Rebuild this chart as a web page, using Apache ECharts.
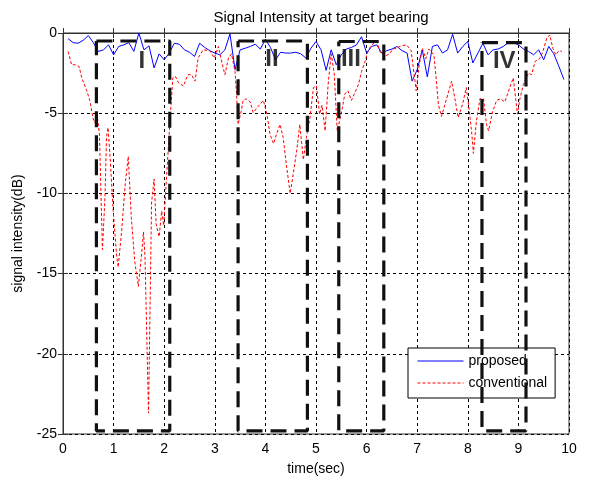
<!DOCTYPE html>
<html>
<head>
<meta charset="utf-8">
<script src="https://cdn.jsdelivr.net/npm/echarts@6/dist/echarts.min.js"></script>
<style>
  html, body { margin: 0; padding: 0; background: #fff; }
  #chart { width: 592px; height: 481px; }
</style>
</head>
<body>
<div id="chart"></div>
<script>
// Sample times (s) and intensity (dB) for the proposed method
const timeProposed = [0.1,0.2,0.3,0.4,0.5,0.6,0.7,0.8,0.9,1.0,1.1,1.2,1.3,1.4,1.5,1.6,1.7,1.8,1.9,2.0,
  2.1,2.2,2.3,2.4,2.5,2.6,2.7,2.8,2.9,3.0,3.1,3.2,3.3,3.4,3.5,3.6,3.7,3.8,3.9,4.0,
  4.1,4.2,4.3,4.4,4.5,4.6,4.7,4.8,4.9,5.0,5.1,5.2,5.3,5.4,5.5,5.6,5.7,5.8,5.9,6.0,
  6.1,6.2,6.3,6.4,6.5,6.6,6.7,6.8,6.9,7.0,7.1,7.2,7.3,7.4,7.5,7.6,7.7,7.8,7.9,8.0,
  8.1,8.2,8.3,8.4,8.5,8.6,8.7,8.8,8.9,9.0,9.1,9.2,9.3,9.4,9.5,9.6,9.7,9.8,9.9];
const proposed = [-0.35,-0.6,-0.64,-0.45,-0.16,-0.6,-1.15,-1.05,-0.74,-1.36,-0.84,-0.74,-0.6,-1.15,0,-1.05,-0.8,-2.18,-1.3,-1.67,
  -1.25,-0.64,-0.7,-1.05,-1.2,-1.46,-0.64,-0.9,-1.1,-1.25,-1.36,-1.05,-0.06,-2.28,-1.05,-0.95,-0.84,-0.7,-1.0,-0.39,
  -0.9,-1.67,-1.2,-1.25,-1.25,-1.2,-1.3,-1.56,-0.95,-0.53,-1.05,-2.33,-1.05,-1.98,-1.36,-1.0,-0.9,-0.74,-0.23,-1.25,
  -0.84,-0.74,-1.25,-1.1,-1.0,-0.84,-1.1,-1.25,-3.0,-2.28,-1.05,-2.74,-0.84,-0.74,-1.25,-1.05,-0.08,-1.25,-0.84,-0.53,
  -1.87,-1.25,-0.64,-1.36,-1.05,-1.0,-0.84,-0.6,-0.6,-0.74,-1.0,-1.15,-1.36,-1.05,-1.67,-0.84,-1.3,-2.08,-2.9];

// Sample times (s) and intensity (dB) for the conventional method
const timeConventional = [0.1,0.17,0.24,0.32,0.37,0.47,0.53,0.59,0.63,0.67,0.72,0.75,0.78,0.83,0.86,0.89,0.93,0.99,1.06,1.09,
  1.16,1.23,1.29,1.35,1.42,1.49,1.55,1.59,1.62,1.66,1.69,1.75,1.8,1.84,1.9,1.95,1.99,2.05,2.11,2.17,
  2.22,2.28,2.38,2.47,2.54,2.61,2.67,2.77,2.9,2.99,3.07,3.15,3.2,3.27,3.33,3.4,3.43,3.46,3.52,3.56,
  3.62,3.7,3.76,3.85,3.96,4.03,4.09,4.16,4.22,4.29,4.35,4.42,4.49,4.55,4.62,4.68,4.75,4.81,4.88,4.95,
  5.01,5.07,5.12,5.18,5.24,5.3,5.36,5.42,5.5,5.57,5.63,5.7,5.77,5.84,5.9,5.97,6.03,6.1,6.2,6.27,
  6.36,6.45,6.52,6.59,6.68,6.79,6.88,6.98,7.04,7.1,7.17,7.23,7.33,7.38,7.42,7.48,7.58,7.68,7.74,7.81,
  7.9,7.97,8.03,8.08,8.11,8.17,8.24,8.31,8.37,8.41,8.49,8.57,8.65,8.73,8.83,8.9,8.98,9.03,9.1,9.2,
  9.26,9.33,9.42,9.48,9.56,9.62,9.68,9.74,9.8,9.86];
const conventional = [-1.15,-1.98,-1.98,-2.1,-2.8,-3.6,-4.2,-5.27,-5.6,-5.0,-6.3,-10,-13.5,-10.2,-6.5,-5.9,-7.7,-11,-13.9,-14.6,
  -12.3,-9.4,-7.7,-11.5,-14.3,-15.8,-13.9,-12.4,-13.9,-19.5,-23.7,-10.6,-9.1,-11.9,-12.7,-11.1,-12.0,-8.8,-5.7,-2.8,
  -2.7,-3.1,-3.3,-2.6,-2.6,-3.0,-1.56,-1.05,-1.1,-1.56,-0.84,-1.98,-2.6,-1.56,-1.3,-2.4,-3.8,-5.7,-4.9,-4.2,
  -4.1,-4.3,-4.96,-4.6,-4.2,-5.06,-6.3,-6.9,-6.3,-5.7,-6.5,-8.35,-10.0,-8.8,-7.3,-5.7,-7.9,-6.5,-5.3,-3.4,
  -3.3,-5.06,-4.5,-6.1,-3.2,-1.3,-2.5,-6.1,-5.0,-3.8,-3.6,-4.2,-3.7,-3.2,-2.4,-1.77,-1.1,-0.74,-0.53,-1.2,
  -1.46,-1.3,-1.0,-0.95,-0.8,-0.74,-1.1,-3.6,-2.0,-0.95,-1.6,-1.0,-1.36,-3.0,-4.5,-5.2,-4.1,-3.0,-4.0,-5.27,
  -4.4,-3.4,-4.86,-6.3,-7.5,-5.5,-4.1,-4.1,-5.7,-6.1,-4.9,-4.2,-4.1,-4.3,-3.4,-2.8,-5.06,-4.1,-3.2,-2.5,
  -2.6,-1.77,-1.6,-1.2,-0.33,-0.12,-0.95,-1.36,-1.1,-1.15];

// Highlighted intervals (I..IV)
const regionNames = ['I', 'II', 'III', 'IV'];
const regionStart = [0.66, 3.46, 5.45, 8.28];
const regionEnd = [2.11, 4.83, 6.34, 9.15];
const regionTop = [-0.5, -0.5, -0.53, -0.6];
const regionBottom = [-24.8, -24.8, -24.8, -24.8];
const regionLabelX = [1.56, 4.13, 5.69, 8.72];
const regionLabelY = [-1.75, -1.65, -1.65, -1.75];

// Axis ticks
const xTicks = { min: 0, max: 10, step: 1 };
const yTicks = { min: -25, max: 0, step: 5 };

const FONT = 'Liberation Sans, Arial, sans-serif';
const zip = (xs, ys) => xs.map((x, i) => [x, ys[i]]);

const gridLine = { show: true, lineStyle: { color: '#000', type: [3, 3], width: 1 } };

const boxSeries = regionNames.map((name, i) => ({
  type: 'line',
  name: 'region ' + name,
  data: [
    [regionStart[i], regionTop[i]], [regionEnd[i], regionTop[i]],
    [regionEnd[i], regionBottom[i]], [regionStart[i], regionBottom[i]],
    [regionStart[i], regionTop[i]]
  ],
  symbol: 'none',
  silent: true,
  z: 10,
  lineStyle: { color: '#111', width: 3.2, type: [16, 8] }
}));

const chart = echarts.init(document.getElementById('chart'), null, { renderer: 'canvas' });
chart.setOption({
  animation: false,
  backgroundColor: '#fff',
  title: {
    text: 'Signal Intensity at target bearing',
    left: 316, top: 5, textAlign: 'center',
    textStyle: { fontFamily: FONT, fontSize: 15, fontWeight: 'normal', color: '#000' }
  },
  grid: { left: 63, right: 23, top: 33, bottom: 43, show: true, borderColor: '#333', borderWidth: 1, backgroundColor: '#fff' },
  legend: {
    data: ['proposed', 'conventional'],
    orient: 'vertical',
    left: 408, top: 348,
    padding: [6, 8, 8, 9],
    itemGap: 8,
    itemWidth: 46, itemHeight: 14,
    itemStyle: { opacity: 0 },
    lineStyle: { width: 1 },
    backgroundColor: '#fff',
    borderColor: '#000', borderWidth: 1, borderRadius: 0,
    textStyle: { fontFamily: FONT, fontSize: 14, color: '#000', padding: [0, 0, 0, 0] },
    z: 5
  },
  xAxis: [{
    type: 'value', min: xTicks.min, max: xTicks.max, interval: xTicks.step,
    name: 'time(sec)', nameLocation: 'middle', nameGap: 28,
    nameTextStyle: { fontFamily: FONT, fontSize: 14, color: '#000' },
    axisLine: { show: true, lineStyle: { color: '#333', width: 1 } },
    axisTick: { show: true, inside: true, length: 5, lineStyle: { color: '#333' } },
    axisLabel: { fontFamily: FONT, fontSize: 14, color: '#000', margin: 8 },
    splitLine: gridLine
  }, {
    type: 'value', position: 'top', min: xTicks.min, max: xTicks.max, interval: xTicks.step,
    axisLine: { show: true, lineStyle: { color: '#333', width: 1 } },
    axisTick: { show: true, inside: true, length: 5, lineStyle: { color: '#333' } },
    axisLabel: { show: false }, splitLine: { show: false }
  }],
  yAxis: [{
    type: 'value', min: yTicks.min, max: yTicks.max, interval: yTicks.step,
    name: 'signal intensity(dB)', nameLocation: 'middle', nameGap: 38, nameRotate: 90,
    nameTextStyle: { fontFamily: FONT, fontSize: 14, color: '#000' },
    axisLine: { show: true, lineStyle: { color: '#333', width: 1 } },
    axisTick: { show: true, inside: true, length: 5, lineStyle: { color: '#333' } },
    axisLabel: { fontFamily: FONT, fontSize: 14, color: '#000', margin: 6 },
    splitLine: gridLine
  }, {
    type: 'value', position: 'right', min: yTicks.min, max: yTicks.max, interval: yTicks.step,
    axisLine: { show: true, lineStyle: { color: '#333', width: 1 } },
    axisTick: { show: true, inside: true, length: 5, lineStyle: { color: '#333' } },
    axisLabel: { show: false }, splitLine: { show: false }
  }],
  series: [
    {
      type: 'line', name: 'proposed',
      data: zip(timeProposed, proposed),
      symbol: 'none', z: 3,
      lineStyle: { color: '#0000ff', width: 1 },
      itemStyle: { color: '#0000ff' }
    },
    {
      type: 'line', name: 'conventional',
      data: zip(timeConventional, conventional),
      symbol: 'none', z: 3,
      lineStyle: { color: '#ff0000', width: 1, type: [3, 2] },
      itemStyle: { color: '#ff0000' }
    },
    ...boxSeries,
    {
      type: 'scatter', name: 'region labels',
      data: regionNames.map((n, i) => [regionLabelX[i], regionLabelY[i], n]),
      symbolSize: 0, silent: true, z: 11,
      label: {
        show: true, position: 'inside',
        formatter: p => p.data[2],
        fontFamily: FONT, fontSize: 24, fontWeight: 'bold', color: '#000'
      }
    }
  ]
});
</script>
</body>
</html>
